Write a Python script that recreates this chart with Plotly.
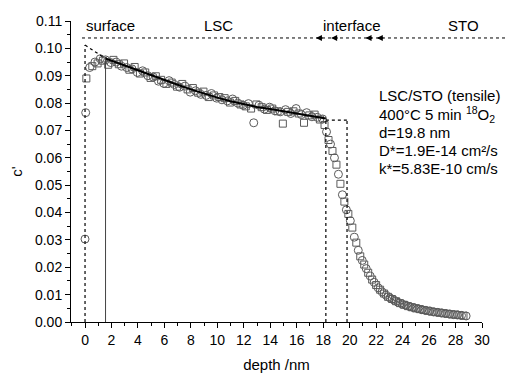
import plotly.graph_objects as go

# ---------------- data ----------------
circ_depth = [0.00, 0.05, 0.35, 0.75, 1.15, 1.55, 1.95, 2.35, 2.75, 3.15, 3.55, 3.95, 4.35, 4.75,
              5.15, 5.55, 5.95, 6.35, 6.75, 7.15, 7.55, 7.95, 8.35, 8.75, 9.15, 9.55, 9.95, 10.35,
              10.75, 11.15, 11.55, 11.95, 12.35, 12.75, 13.15, 13.55, 13.95, 14.35, 14.75, 15.15,
              15.55, 15.95, 16.35, 16.75, 17.15, 17.55, 17.95, 18.25, 18.55, 18.85, 19.15, 19.45,
              19.75, 20.05, 20.35, 20.65, 20.95, 21.25, 21.55, 21.85, 22.15, 22.45, 22.75, 23.05,
              23.35, 23.65, 23.95, 24.25, 24.55, 24.85, 25.15, 25.45, 25.75, 26.05, 26.35, 26.65,
              26.95, 27.25, 27.55, 27.85, 28.15, 28.45, 28.80]
circ_c = [0.0303, 0.0765, 0.0930, 0.0950, 0.0962, 0.0958, 0.0948, 0.0950, 0.0935, 0.0930, 0.0925,
          0.0912, 0.0918, 0.0900, 0.0895, 0.0880, 0.0872, 0.0882, 0.0868, 0.0858, 0.0862, 0.0840,
          0.0845, 0.0832, 0.0828, 0.0835, 0.0818, 0.0812, 0.0808, 0.0815, 0.0800, 0.0792, 0.0798,
          0.0728, 0.0792, 0.0778, 0.0785, 0.0772, 0.0768, 0.0776, 0.0762, 0.0780, 0.0758, 0.0765,
          0.0750, 0.0748, 0.0742, 0.0695, 0.0650, 0.0600, 0.0540, 0.0465, 0.0410, 0.0370, 0.0310,
          0.0262, 0.0225, 0.0195, 0.0168, 0.0145, 0.0125, 0.0110, 0.0098, 0.0088, 0.0080, 0.0072,
          0.0066, 0.0061, 0.0056, 0.0052, 0.0049, 0.0045, 0.0042, 0.0040, 0.0037, 0.0035, 0.0033,
          0.0031, 0.0029, 0.0027, 0.0026, 0.0024, 0.0022]

sq_depth = [0.10, 0.55, 0.95, 1.35, 1.75, 2.15, 2.55, 2.95, 3.35, 3.75, 4.15, 4.55, 4.95, 5.35,
            5.75, 6.15, 6.55, 6.95, 7.35, 7.75, 8.15, 8.55, 8.95, 9.35, 9.75, 10.15, 10.55, 10.95,
            11.35, 11.75, 12.15, 12.55, 12.95, 13.35, 13.75, 14.15, 14.55, 14.95, 15.35, 15.75,
            16.15, 16.55, 16.95, 17.35, 17.75, 18.10, 18.40, 18.70, 19.00, 19.30, 19.60, 19.90,
            20.20, 20.50, 20.80, 21.10, 21.40, 21.70, 22.00, 22.30, 22.60, 22.90, 23.20, 23.50,
            23.80, 24.10, 24.40, 24.70, 25.00, 25.30, 25.60, 25.90, 26.20, 26.50, 26.80, 27.10,
            27.40, 27.70, 28.00, 28.30, 28.60]
sq_c = [0.0890, 0.0935, 0.0945, 0.0955, 0.0940, 0.0958, 0.0942, 0.0945, 0.0922, 0.0932, 0.0908,
        0.0912, 0.0892, 0.0898, 0.0885, 0.0870, 0.0875, 0.0860, 0.0870, 0.0850, 0.0855, 0.0838,
        0.0842, 0.0822, 0.0828, 0.0822, 0.0818, 0.0802, 0.0808, 0.0795, 0.0788, 0.0780, 0.0795,
        0.0785, 0.0775, 0.0780, 0.0770, 0.0725, 0.0768, 0.0770, 0.0762, 0.0728, 0.0755, 0.0758,
        0.0740, 0.0720, 0.0665, 0.0625, 0.0575, 0.0505, 0.0440, 0.0395, 0.0345, 0.0290, 0.0240,
        0.0210, 0.0180, 0.0155, 0.0135, 0.0118, 0.0104, 0.0092, 0.0084, 0.0076, 0.0069, 0.0063,
        0.0058, 0.0054, 0.0050, 0.0047, 0.0044, 0.0041, 0.0038, 0.0036, 0.0034, 0.0032, 0.0030,
        0.0028, 0.0027, 0.0025, 0.0023]

fit_depth = [1.5, 2, 3, 4, 5, 6, 7, 8, 9, 10, 11, 12, 13, 14, 15, 16, 17, 18, 18.2]
fit_c = [0.0964, 0.0955, 0.0937, 0.0919, 0.0901, 0.0884, 0.0867, 0.0850, 0.0834, 0.0820,
         0.0807, 0.0796, 0.0786, 0.0778, 0.0770, 0.0762, 0.0754, 0.0746, 0.0744]

surface_c0 = 0.1012        # extrapolated surface concentration
x_surface = 0.0
x_fit_start = 1.55
x_interface_1 = 18.2
x_interface_2 = 19.8
c_interface = 0.0738
c_top_line = 0.1038

region_labels = ["surface", "LSC", "interface", "STO"]
region_pos = [1.93, 10.05, 20.18, 28.6]

info_lines = ["LSC/STO (tensile)",
              "400°C 5 min <sup>18</sup>O<sub>2</sub>",
              "d=19.8 nm",
              "D*=1.9E-14 cm²/s",
              "k*=5.83E-10 cm/s"]

x_ticks = list(range(0, 31, 2))
y_ticks = [round(0.01 * i, 2) for i in range(12)]

FONT = "Liberation Sans, Arial, sans-serif"
MK = "#5a5a5a"

fig = go.Figure()

fig.add_trace(go.Scatter(x=circ_depth, y=circ_c, mode="markers",
                         marker=dict(symbol="circle-open", size=8, color=MK, line=dict(width=1)),
                         showlegend=False))
fig.add_trace(go.Scatter(x=sq_depth, y=sq_c, mode="markers",
                         marker=dict(symbol="square-open", size=7, color=MK, line=dict(width=1)),
                         showlegend=False))
fig.add_trace(go.Scatter(x=fit_depth, y=fit_c, mode="lines",
                         line=dict(color="black", width=2), showlegend=False))

# guide lines
dot = dict(color="black", width=1.2, dash="dot")
fig.add_shape(type="line", x0=x_surface, x1=x_surface, y0=0, y1=surface_c0, line=dot)
fig.add_shape(type="line", x0=x_surface, x1=fit_depth[0], y0=surface_c0, y1=fit_c[0], line=dot)
fig.add_shape(type="line", x0=x_fit_start, x1=x_fit_start, y0=0, y1=fit_c[0],
              line=dict(color="#444444", width=1))
fig.add_shape(type="line", x0=x_interface_1, x1=x_interface_1, y0=0, y1=c_interface, line=dot)
fig.add_shape(type="line", x0=x_interface_2, x1=x_interface_2, y0=0, y1=c_interface, line=dot)
fig.add_shape(type="line", x0=fit_depth[-1], x1=x_interface_2, y0=c_interface, y1=c_interface, line=dot)
# top dotted line runs past the plot area to the page edge
fig.add_shape(type="line", xref="paper", yref="y", x0=(82 - 71) / 411, x1=(505 - 71) / 411,
              y0=c_top_line, y1=c_top_line, line=dict(color="black", width=1, dash="dot"))

# arrows on the top line around the interface
for xa in [17.45, 18.6, 21.2, 22.05]:
    fig.add_annotation(x=xa, y=c_top_line, ax=8, ay=0, axref="pixel", ayref="pixel",
                       text="", showarrow=True, arrowhead=2, arrowsize=0.8, arrowwidth=1.5,
                       arrowcolor="black")

for lab, xp in zip(region_labels, region_pos):
    fig.add_annotation(x=xp, y=0.1085, text=lab, showarrow=False,
                       font=dict(family=FONT, size=15, color="black"))

for i, t in enumerate(info_lines):
    fig.add_annotation(xref="paper", yref="paper", x=(377 - 71) / 411,
                       y=(322 - (96 + 18 * i)) / 301, text=t, showarrow=False,
                       xanchor="left", yanchor="middle",
                       font=dict(family=FONT, size=15, color="black"))

fig.update_layout(
    width=509, height=373,
    margin=dict(l=71, r=27, t=21, b=51, autoexpand=False),
    paper_bgcolor="white", plot_bgcolor="white",
    font=dict(family=FONT, size=14, color="black"),
    xaxis=dict(range=[-1.06, 30], tickmode="array", tickvals=x_ticks, automargin=False,
               ticks="outside", ticklen=5, tickwidth=1, tickcolor="black",
               minor=dict(dtick=1, ticks="outside", ticklen=3, tickcolor="black"),
               showline=True, linecolor="black", linewidth=1, showgrid=False, zeroline=False,
               title=dict(text="depth /nm", font=dict(size=15), standoff=20),
               tickfont=dict(size=14)),
    yaxis=dict(range=[0, 0.11], tickmode="array", tickvals=y_ticks, automargin=False,
               ticktext=[f"{v:.2f}" for v in y_ticks],
               ticks="outside", ticklen=5, tickwidth=1, tickcolor="black",
               minor=dict(dtick=0.005, ticks="outside", ticklen=3, tickcolor="black"),
               showline=True, linecolor="black", linewidth=1, showgrid=False, zeroline=False,
               title=dict(text="c'", font=dict(size=15), standoff=8),
               tickfont=dict(size=14)),
)

fig.write_html("out.html")
